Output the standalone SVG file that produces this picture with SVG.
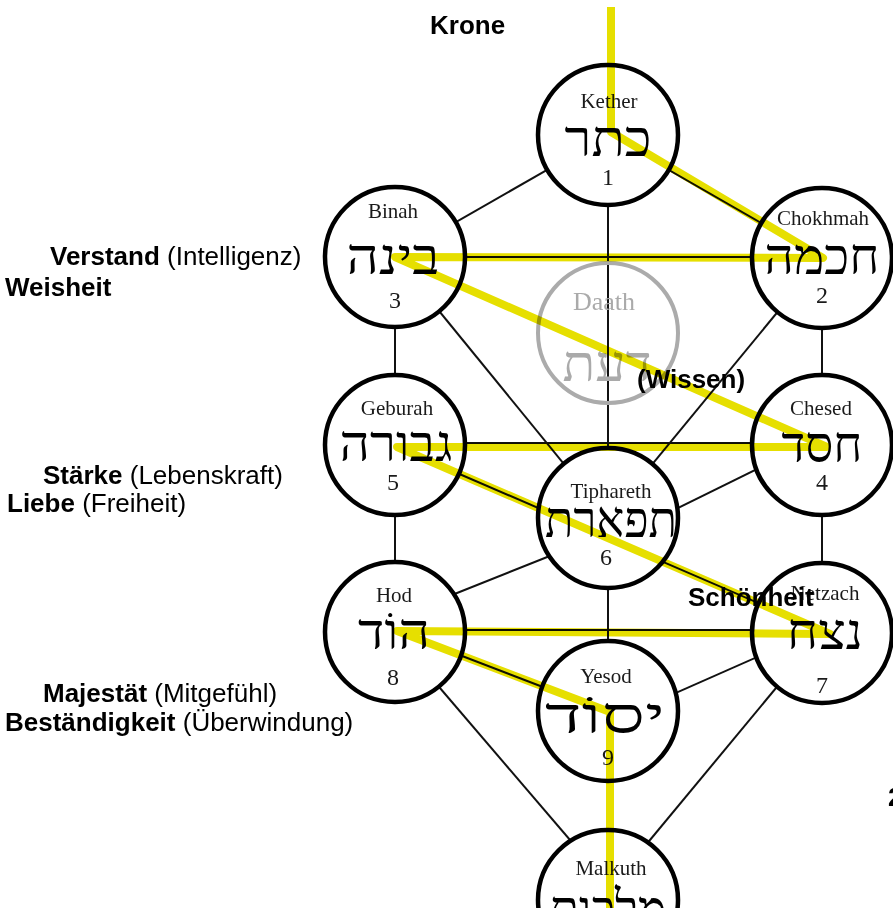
<svg xmlns="http://www.w3.org/2000/svg" width="893" height="908" viewBox="0 0 893 908">
<style>
.ln{stroke:#111;stroke-width:2;fill:none}
.flash{stroke:#e6df00;stroke-width:8;fill:none;stroke-linejoin:round;mix-blend-mode:multiply}
.ring{fill:#fff;stroke:#000;stroke-width:4.5}
.daath{fill:none;stroke:#ababab;stroke-width:4}
.nm{font-family:"Liberation Serif","DejaVu Serif",serif;font-size:21px;fill:#1a1a1a;text-anchor:middle}
.he{font-family:"Liberation Serif","DejaVu Serif",serif;font-size:50px;fill:#000;text-anchor:middle}
.num{font-family:"Liberation Serif","DejaVu Serif",serif;font-size:24px;fill:#1a1a1a;text-anchor:middle}
.lab{font-family:"Liberation Sans",Arial,sans-serif;font-size:26px;fill:#000}
.b{font-weight:bold}
.g{fill:#aaaaaa}
</style>
<rect width="893" height="908" fill="#fff"/>
<g id="connectors">
<line class="ln" x1="608" y1="135" x2="395" y2="257"/>
<line class="ln" x1="608" y1="135" x2="822" y2="258"/>
<line class="ln" x1="608" y1="135" x2="608" y2="518"/>
<line class="ln" x1="395" y1="257" x2="822" y2="257"/>
<line class="ln" x1="395" y1="257" x2="395" y2="445"/>
<line class="ln" x1="395" y1="257" x2="608" y2="518"/>
<line class="ln" x1="822" y1="258" x2="822" y2="445"/>
<line class="ln" x1="822" y1="258" x2="608" y2="518"/>
<line class="ln" x1="395" y1="443" x2="822" y2="443"/>
<line class="ln" x1="620" y1="536.6" x2="800" y2="447.8"/>
<line class="ln" x1="822" y1="445" x2="822" y2="633"/>
<line class="ln" x1="395" y1="445" x2="395" y2="632"/>
<line class="ln" x1="397" y1="447" x2="830" y2="634"/>
<line class="ln" x1="410" y1="611.7" x2="600" y2="536"/>
<line class="ln" x1="608" y1="518" x2="608" y2="711"/>
<line class="ln" x1="395" y1="630" x2="822" y2="630"/>
<line class="ln" x1="397" y1="631" x2="608" y2="712"/>
<line class="ln" x1="620" y1="717.6" x2="810" y2="633.7"/>
<line class="ln" x1="410" y1="653" x2="600" y2="875"/>
<line class="ln" x1="810" y1="647" x2="616" y2="881"/>
</g>
<g id="kether"><circle class="ring" cx="608" cy="135" r="70"/><text class="nm" x="609" y="108">Kether</text><text class="he" x="608" y="156" textLength="87" lengthAdjust="spacingAndGlyphs">כתר</text><text class="num" x="608" y="185">1</text></g>
<g id="binah"><circle class="ring" cx="395" cy="257" r="70"/><text class="nm" x="393" y="218">Binah</text><text class="he" x="393" y="274" textLength="93" lengthAdjust="spacingAndGlyphs">בינה</text><text class="num" x="395" y="308">3</text></g>
<g id="chokhmah"><circle class="ring" cx="822" cy="258" r="70"/><text class="nm" x="823" y="225">Chokhmah</text><text class="he" x="822" y="274" textLength="115" lengthAdjust="spacingAndGlyphs">חכמה</text><text class="num" x="822" y="303">2</text></g>
<g id="daath"><circle class="daath" cx="608" cy="333" r="70"/><text class="nm g" x="604" y="310" style="font-size:26px">Daath</text><text class="he g" x="607" y="381" textLength="89" lengthAdjust="spacingAndGlyphs">דעת</text></g>
<g id="geburah"><circle class="ring" cx="395" cy="445" r="70"/><text class="nm" x="397" y="415">Geburah</text><text class="he" x="396" y="461" textLength="113" lengthAdjust="spacingAndGlyphs">גבורה</text><text class="num" x="393" y="490">5</text></g>
<g id="chesed"><circle class="ring" cx="822" cy="445" r="70"/><text class="nm" x="821" y="415">Chesed</text><text class="he" x="822" y="462" textLength="81" lengthAdjust="spacingAndGlyphs">חסד</text><text class="num" x="822" y="490">4</text></g>
<g id="tiphareth"><circle class="ring" cx="608" cy="518" r="70"/><text class="nm" x="611" y="498">Tiphareth</text><text class="he" x="611" y="537" textLength="132" lengthAdjust="spacingAndGlyphs">תפארת</text><text class="num" x="606" y="565">6</text></g>
<g id="hod"><circle class="ring" cx="395" cy="632" r="70"/><text class="nm" x="394" y="602">Hod</text><text class="he" x="394" y="649" textLength="72" lengthAdjust="spacingAndGlyphs">הוֹד</text><text class="num" x="393" y="685">8</text></g>
<g id="netzach"><circle class="ring" cx="822" cy="633" r="70"/><text class="nm" x="825" y="600">Netzach</text><text class="he" x="825" y="649" textLength="76" lengthAdjust="spacingAndGlyphs">נצח</text><text class="num" x="822" y="693">7</text></g>
<g id="yesod"><circle class="ring" cx="608" cy="711" r="70"/><text class="nm" x="606" y="683">Yesod</text><text class="he" x="605" y="733" textLength="120" lengthAdjust="spacingAndGlyphs">יסוֹד</text><text class="num" x="608" y="765">9</text></g>
<g id="malkuth"><circle class="ring" cx="608" cy="900" r="70"/><text class="nm" x="611" y="875">Malkuth</text><text class="he" x="608" y="926" textLength="117" lengthAdjust="spacingAndGlyphs">מלכות</text></g>
<g id="flash">
<polyline class="flash" points="611,7 611,132 823,258 395,257 827,447 397,447 830,634 397,631 610,712 610,908"/>
</g>
<g id="labels">
<text class="lab b" x="430" y="34">Krone</text>
<text class="lab" x="50" y="265"><tspan class="b">Verstand</tspan> (Intelligenz)</text>
<text class="lab b" x="5" y="296">Weisheit</text>
<text class="lab" x="43" y="484"><tspan class="b">Stärke</tspan> (Lebenskraft)</text>
<text class="lab" x="7" y="512"><tspan class="b">Liebe</tspan> (Freiheit)</text>
<text class="lab" x="43" y="702"><tspan class="b">Majestät</tspan> (Mitgefühl)</text>
<text class="lab" x="5" y="731"><tspan class="b">Beständigkeit</tspan> (Überwindung)</text>
<text class="lab b" x="637" y="388">(Wissen)</text>
<text class="lab b" x="688" y="606">Schönheit</text>
<text class="lab b" x="888" y="806">2</text>
</g>
</svg>
